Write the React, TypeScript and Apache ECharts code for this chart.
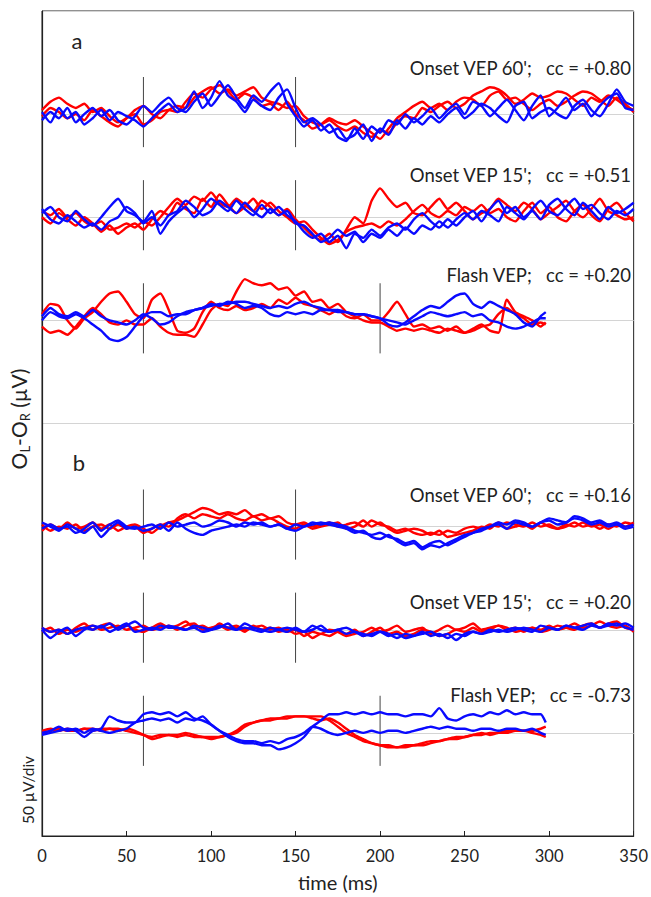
import React, { useEffect, useRef } from "react";
import * as echarts from "echarts";

// sampling grids (ms)
const T_ONSET = Array.from({ length: 71 }, (_, i) => i * 5);
const T_FLASH = [...Array.from({ length: 60 }, (_, i) => i * 5), 298];

const X_TICKS = [0, 50, 100, 150, 200, 250, 300, 350];

// baselines (µV on the stacked axis, 50 µV/div)
const BASE_A60 = 350, BASE_A15 = 300, BASE_AFL = 250;
const BASE_B60 = 150, BASE_B15 = 100, BASE_BFL = 50;

const ONSET_MARKS = [60, 150];
const FLASH_MARKS = [60, 200];

const LABELS = [
  "Onset VEP 60';   cc = +0.80",
  "Onset VEP 15';   cc = +0.51",
  "Flash VEP;   cc = +0.20",
  "Onset VEP 60';   cc = +0.16",
  "Onset VEP 15';   cc = +0.20",
  "Flash VEP;   cc = -0.73",
];

// ---- panel a, Onset 60'
const A60_R1 = [2,6,8,5,3,5,1,3,-1,-4, -2,2,4,0,-2,2,4,3,8,11, 13,10,12,9,11,13,8,6,5,3, 4,-1,-4,-5,-3,-6,-8,-6,-9,-11, -8,-9,-4,-1,-2,3,1,4,6,3, 5,9,11,13,12,9,5,7,10,8, 9,11,10,7,4,8,6,9,7,4, 2];
const A60_R2 = [-1,3,1,-2,0,-3,2,-1,-4,-6, -2,0,-5,-3,1,2,1,6,10,8, 12,14,11,7,10,8,4,5,2,6, 0,-3,-7,-5,-2,-4,-5,-3,-6,-9, -12,-7,-2,1,4,6,3,5,2,6, 8,7,4,9,11,7,8,5,2,5, 7,4,6,9,11,10,7,4,8,5, 1];
const A60_B1 = [-3,1,-2,3,-4,0,3,-1,2,-3, -5,-1,4,1,5,8,3,1,6,10, 4,9,14,8,3,9,6,11,15,5, -1,-6,-3,-8,-5,-11,-13,-7,-12,-6, -9,-3,-5,0,-4,-1,3,-2,2,5, 0,6,4,-1,3,7,2,-3,4,9, -1,3,8,2,5,-1,4,8,10,3, 2];
const A60_B2 = [1,-4,3,-2,1,-5,-2,2,-3,1, -1,-3,-6,-2,2,5,1,3,11,3, 8,16,9,6,1,7,4,2,8,12, 3,-4,-2,-5,-9,-7,-12,-10,-5,-13, -7,-10,-3,-7,-2,-5,-1,-4,0,3, -2,1,5,3,-1,-4,4,6,-2,1, 3,0,-2,4,7,2,-1,5,12,6, 4];

// ---- panel a, Onset 15'
const A15_R1 = [3,1,4,0,2,-2,-4,-2,-6,-5, -3,-5,-2,-4,0,5,9,6,10,8, 12,7,5,9,6,3,8,5,1,4, -1,-5,-9,-11,-8,-12,-6,0,-3,8, 14,9,5,7,2,1,5,9,4,7, 3,-1,2,4,9,6,3,7,4,-1, 2,5,8,3,0,4,9,3,1,-1, 0];
const A15_R2 = [0,-3,2,-1,-4,0,-3,-7,-4,-8, -5,-3,-6,-1,3,1,7,4,2,9, 5,11,6,2,5,9,4,7,3,0, -3,-2,-6,-10,-13,-11,-7,-5,-4,-3, -5,-2,-4,-1,3,6,2,0,3,1, 5,3,6,2,4,0,-2,3,7,2, 5,0,-2,3,6,1,-2,4,7,2, -2];
const A15_B1 = [2,5,0,-2,3,-1,-4,0,5,9, 3,1,-2,3,-8,-2,2,5,0,4, 9,6,3,8,4,1,6,2,5,1, -2,-7,-10,-8,-12,-9,-15,-8,-10,-6, -9,-5,-3,-6,-1,2,-2,-5,-1,-4, 0,3,-2,4,8,2,5,0,3,-1, 6,9,4,1,7,3,-1,5,2,4, 7];
const A15_B2 = [4,-1,-3,1,-2,-5,-3,-6,-2,0, 5,2,-3,0,-4,1,3,8,5,1, 3,8,5,2,7,3,0,4,1,3, -3,-4,-8,-12,-10,-6,-9,-7,-12,-8, -10,-6,-9,-5,-8,-4,-6,-2,-5,-1, 2,-1,3,1,-2,5,2,-1,4,8, 3,1,5,9,4,6,2,-1,3,1, 4];

// ---- panel a, Flash
const AFL_R1 = [-3,-6,-5,-7,-3,2,6,3,-1,-2, 0,-2,-2,1,-3,-6,-7,-7,-8,-2, 5,8,7,14,20,18,17,18,15,16, 12,14,9,10,6,8,4,2,0,-1, -1,-3,-5,-4,-5,-4,-5,-6,-4,-5, -6,-5,-3,-2,3,6,3,1,-2,-1, -2];
const AFL_R2 = [3,8,7,0,-4,1,4,9,13,14, 9,3,1,10,13,5,-5,-6,-4,4, 9,6,5,7,5,6,8,6,10,8, 11,8,7,5,3,5,2,1,3,0, 0,4,9,3,-3,-2,-4,-3,-5,-3, -6,-4,-2,-5,-6,10,4,2,0,-3, -1];
const AFL_B1 = [0,4,2,1,3,1,-2,-5,-9,-10, -8,-3,2,4,4,2,3,3,5,6, 7,8,8,9,9,8,7,6,7,6, 8,9,7,6,5,5,4,3,3,2, 1,0,-1,-2,0,2,4,3,2,3, 4,2,3,0,-1,-3,-4,-3,-1,1, 1];
const AFL_B2 = [2,6,3,2,4,2,5,2,0,-1, -2,0,3,1,-2,-1,2,4,5,6, 8,7,9,8,6,7,6,3,2,4, 3,4,3,5,5,4,4,3,3,2, 1,-2,-3,-1,2,5,7,6,9,12, 13,8,6,9,7,5,3,-1,-3,2, 4];

// ---- panel b, Onset 60'
const B60_R1 = [-2,1,-1,2,-1,0,2,-1,1,-2, 0,1,-1,-3,0,2,3,5,7,9, 8,6,7,6,8,5,6,4,5,2, 1,2,0,1,2,0,1,2,0,3, 1,0,-2,-1,-3,-4,-3,-4,-2,-3, -1,0,-1,1,0,2,1,0,2,0, 1,-1,0,2,0,1,-1,1,0,2, 1];
const B60_R2 = [1,-2,0,-1,1,-2,0,1,-1,1, -1,0,-3,-1,1,0,4,6,4,6, 5,4,6,4,3,5,3,4,2,0, -1,1,-1,0,1,2,-1,0,3,0, 2,-1,-3,-2,-1,-2,-4,-2,-5,-4, -3,-2,0,-1,2,-1,0,1,-1,2, 0,-1,1,0,2,0,1,-1,1,0, 2];
const B60_B1 = [2,0,-2,1,-1,-3,0,-5,-1,2, -1,0,-2,-1,1,-2,2,-1,-3,-4, -2,-1,0,1,0,2,1,0,1,-1, -2,0,1,2,1,0,-1,-3,-2,-5, -6,-4,-7,-9,-8,-11,-9,-10,-8,-6, -4,-3,-1,0,1,-1,2,1,0,2, 3,1,2,4,3,1,2,0,1,-1, 0];
const B60_B2 = [-1,1,-1,0,-3,-1,2,-2,1,3, 0,-1,0,1,-1,2,0,1,2,0, 1,3,2,0,2,1,2,0,1,-1, 1,0,2,1,2,1,0,-2,-3,-4, -3,-5,-6,-8,-7,-10,-8,-7,-9,-7, -5,-3,-2,0,2,1,3,2,0,2, 4,3,2,5,4,2,3,1,2,0, 1];

// ---- panel b, Onset 15'
const B15_R1 = [1,-1,0,-2,1,3,0,2,3,1, 2,0,-1,1,3,1,2,4,1,2, 0,3,1,2,0,1,2,0,1,-1, 0,-3,-1,-2,0,-1,-3,-2,-1,1, -1,0,2,-1,0,1,-2,0,2,0, 1,3,0,1,2,0,1,-1,1,0, 2,0,1,3,1,2,4,2,1,2, -1];
const B15_R2 = [-1,1,-2,0,-1,1,2,0,1,2, 0,1,2,0,1,2,0,2,3,0, 1,2,0,1,-1,2,0,1,-1,0, -2,-1,-4,-2,-3,-1,-2,0,-3,-1, 1,-2,-1,-3,-2,0,-1,-3,-2,0, -1,1,-1,0,2,1,-1,0,1,-1, 0,2,1,0,2,3,1,3,4,1, 0];
const B15_B1 = [0,-4,-1,1,-3,0,2,1,3,0, 2,4,1,0,2,1,1,0,2,1, 0,1,3,0,1,0,-1,1,0,-1, 1,-1,0,2,-1,0,-2,-1,-3,-2, -1,-3,-2,-4,-3,-2,-1,-3,-2,-5, -2,-1,-2,0,-1,0,1,0,-1,2, 1,0,2,1,2,3,1,2,3,1, 0];
const B15_B2 = [1,-1,0,-2,0,1,0,2,-1,1, 3,-1,0,1,0,2,1,0,1,-1, 0,2,1,0,3,1,0,-1,0,1, 0,-1,2,0,-1,0,1,-1,-2,-3, -1,-2,-4,-2,-3,-1,-3,-2,-4,-2, -3,-1,-2,-1,0,-1,0,1,0,-1, 1,0,2,1,0,2,1,3,2,3, 1];

// ---- panel b, Flash
const BFL_R1 = [1,2,1,2,1,2,1,2,2,1, 2,1,-1,-2,-1,-1,-1,0,-1,-2, -2,-2,-1,0,3,5,6,6,7,7, 8,8,8,8,6,3,0,-2,-4,-5, -6,-7,-7,-7,-6,-6,-5,-4,-3,-3, -2,-1,-1,0,0,0,1,1,1,2, 3];
const BFL_R2 = [0,1,2,1,1,2,2,1,2,2, 1,0,-1,-3,-2,-1,-2,-1,-2,-2, -3,-2,-1,1,4,5,6,7,7,8, 8,8,7,6,7,5,2,-1,-3,-5, -6,-6,-7,-6,-6,-5,-4,-4,-3,-2, -2,-1,0,-1,0,1,1,1,0,-1, -2];
const BFL_B1 = [-1,0,1,2,1,-2,1,2,8,6, 5,5,9,10,9,10,8,10,7,6, 4,1,-2,-4,-5,-5,-6,-6,-8,-7, -5,-2,3,6,9,9,10,9,10,9, 10,9,9,8,9,9,8,12,7,6, 8,9,8,10,9,11,9,10,9,9, 5];
const BFL_B2 = [0,1,3,1,2,0,2,1,0,1, 2,5,6,7,6,7,5,7,6,8, 4,1,-1,-3,-4,-4,-5,-4,-5,-3, -2,0,3,2,0,-1,0,1,0,1, 0,1,1,0,1,2,3,2,3,2, 2,1,2,2,1,2,2,1,2,0, -1];

const RED = "#ff0000";
const BLUE = "#0a0aff";
const FONT = "Lato, 'Open Sans', sans-serif";

const PANELS = [
  { base: BASE_A60, times: T_ONSET, marks: ONSET_MARKS, reds: [A60_R1, A60_R2], blues: [A60_B1, A60_B2] },
  { base: BASE_A15, times: T_ONSET, marks: ONSET_MARKS, reds: [A15_R1, A15_R2], blues: [A15_B1, A15_B2] },
  { base: BASE_AFL, times: T_FLASH, marks: FLASH_MARKS, reds: [AFL_R1, AFL_R2], blues: [AFL_B1, AFL_B2] },
  { base: BASE_B60, times: T_ONSET, marks: ONSET_MARKS, reds: [B60_R1, B60_R2], blues: [B60_B1, B60_B2] },
  { base: BASE_B15, times: T_ONSET, marks: ONSET_MARKS, reds: [B15_R1, B15_R2], blues: [B15_B1, B15_B2] },
  { base: BASE_BFL, times: T_FLASH, marks: FLASH_MARKS, reds: [BFL_R1, BFL_R2], blues: [BFL_B1, BFL_B2] },
];

const LABEL_Y = [68, 175, 275, 495, 602, 695];

export default function App() {
  const ref = useRef<HTMLDivElement>(null);
  useEffect(() => {
    if (!ref.current) return;
    const chart = echarts.init(ref.current, null, { renderer: "svg" });
    const series: any[] = [];
    PANELS.forEach((p) => {
      p.marks.forEach((m) => {
        series.push({
          type: "line",
          data: [[m, p.base - 16], [m, p.base + 18]],
          showSymbol: false,
          lineStyle: { color: "#444", width: 1 },
          silent: true,
          z: 1,
        });
      });
      const traces = [
        ...p.reds.map((v) => ({ v, c: RED })),
        ...p.blues.map((v) => ({ v, c: BLUE })),
      ];
      traces.forEach((tr) => {
        series.push({
          type: "line",
          data: p.times.map((t, i) => [t, p.base + tr.v[i]]),
          showSymbol: false,
          smooth: 0.2,
          lineStyle: { color: tr.c, width: 2.4 },
          silent: true,
          z: 2,
        });
      });
    });

    const graphic: any[] = [
      { type: "text", x: 77, y: 40, style: { text: "a", font: `22px ${FONT}`, fill: "#222", align: "center", verticalAlign: "middle" } },
      { type: "text", x: 79, y: 462, style: { text: "b", font: `22px ${FONT}`, fill: "#222", align: "center", verticalAlign: "middle" } },
      ...LABELS.map((t, i) => ({
        type: "text", x: 631, y: LABEL_Y[i],
        style: { text: t, font: `18.5px ${FONT}`, fill: "#222", align: "right", verticalAlign: "middle" },
      })),
      {
        type: "text", x: 18, y: 419, rotation: Math.PI / 2,
        style: {
          text: "O{s|L}-O{s|R} (µV)",
          font: `21px ${FONT}`, fill: "#222", align: "center", verticalAlign: "middle",
          rich: {
            s: { fontSize: 13, fontFamily: FONT, fill: "#222", verticalAlign: "bottom", lineHeight: 26, padding: [10, 0, 0, 0] },
          },
        },
      },
      {
        type: "text", x: 28, y: 790, rotation: Math.PI / 2,
        style: { text: "50 µV/div", font: `15.5px ${FONT}`, fill: "#222", align: "center", verticalAlign: "middle" },
      },
    ];

    chart.setOption({
      animation: false,
      grid: { left: 42, right: 14, top: 11, bottom: 60, show: true, borderColor: "#222", borderWidth: 1 },
      xAxis: {
        type: "value", min: 0, max: 350, interval: 50,
        axisLine: { lineStyle: { color: "#222", width: 1.2 } },
        axisTick: { inside: true, length: 5, lineStyle: { color: "#222" } },
        axisLabel: { color: "#222", fontSize: 16.5, fontFamily: FONT, margin: 11,
          formatter: (v: number) => (X_TICKS.includes(v) ? String(v) : "") },
        splitLine: { show: false },
        name: "time (ms)", nameLocation: "middle", nameGap: 36,
        nameTextStyle: { color: "#222", fontSize: 20, fontFamily: FONT },
      },
      yAxis: {
        type: "value", min: 0, max: 400, interval: 50,
        axisLine: { show: true, lineStyle: { color: "#222", width: 1.2 } },
        axisTick: { show: false },
        axisLabel: { show: false },
        splitLine: { show: true, lineStyle: { color: "#d4d4d4", width: 1 } },
      },
      graphic,
      series,
    });
    return () => chart.dispose();
  }, []);
  return <div ref={ref} style={{ position: "fixed", left: 0, top: 0, width: 651, height: 897, background: "#fff" }} />;
}
